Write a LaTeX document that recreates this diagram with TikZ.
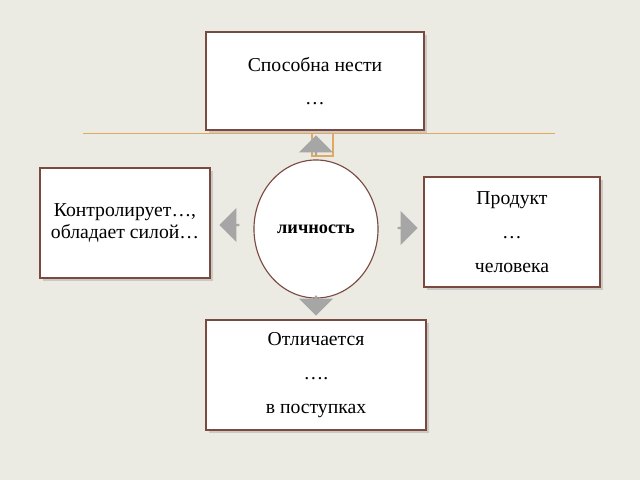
\documentclass[tikz,border=0pt]{standalone}
\usepackage{fontspec}
\setmainfont{Liberation Serif}
\usetikzlibrary{shapes.arrows,shapes.geometric,shadows}
\definecolor{bgbeige}{HTML}{EBEAE3}
\definecolor{boxline}{HTML}{7A4A40}
\definecolor{ruleorange}{HTML}{E0A860}
\definecolor{arrowgray}{HTML}{A6A6A6}
\tikzset{textbox/.style={draw=boxline,fill=white,thick,drop shadow={opacity=0.3},align=center,font=\fontsize{14}{24}\selectfont},
blockarrow/.style={single arrow,fill=arrowgray,draw=none,minimum width=0.85cm,minimum height=0.5cm,single arrow head extend=0.1cm,inner sep=0pt}}

\begin{document}
\begin{tikzpicture}[x=0.025cm,y=-0.025cm]
\useasboundingbox[fill=bgbeige] (0,0) rectangle (640,480);

%% rule and bracket
\draw[ruleorange,thin] (83,133) -- (555,133);
\draw[ruleorange,thick] (312,133) -- (312,156) -- (333,156) -- (333,133);

%% boxes
\node[textbox,minimum width=5.45cm,minimum height=2.45cm] (top) at (315,81) {Способна нести\\…};
\node[textbox,minimum width=4.25cm,minimum height=2.75cm] (left) at (125,223) {Контролирует…,\\[-8pt]обладает силой…};
\node[textbox,minimum width=4.4cm,minimum height=2.75cm] (right) at (512,232) {Продукт\\…\\человека};
\node[textbox,minimum width=5.5cm,minimum height=2.75cm] (bottom) at (316,375) {Отличается\\….\\в поступках};

%% centre
\node[ellipse,draw=boxline,thick,fill=white,minimum width=3.1cm,minimum height=3.45cm,font=\bfseries\fontsize{13}{15}\selectfont] (person) at (316,229) {личность};

%% arrows
\node[blockarrow,rotate=90] (up) at (316,146) {};
\node[blockarrow,rotate=180] (toleft) at (230,225) {};
\node[blockarrow] (toright) at (407,228) {};
\node[blockarrow,rotate=-90] (down) at (316,305) {};
\end{tikzpicture}
\end{document}
